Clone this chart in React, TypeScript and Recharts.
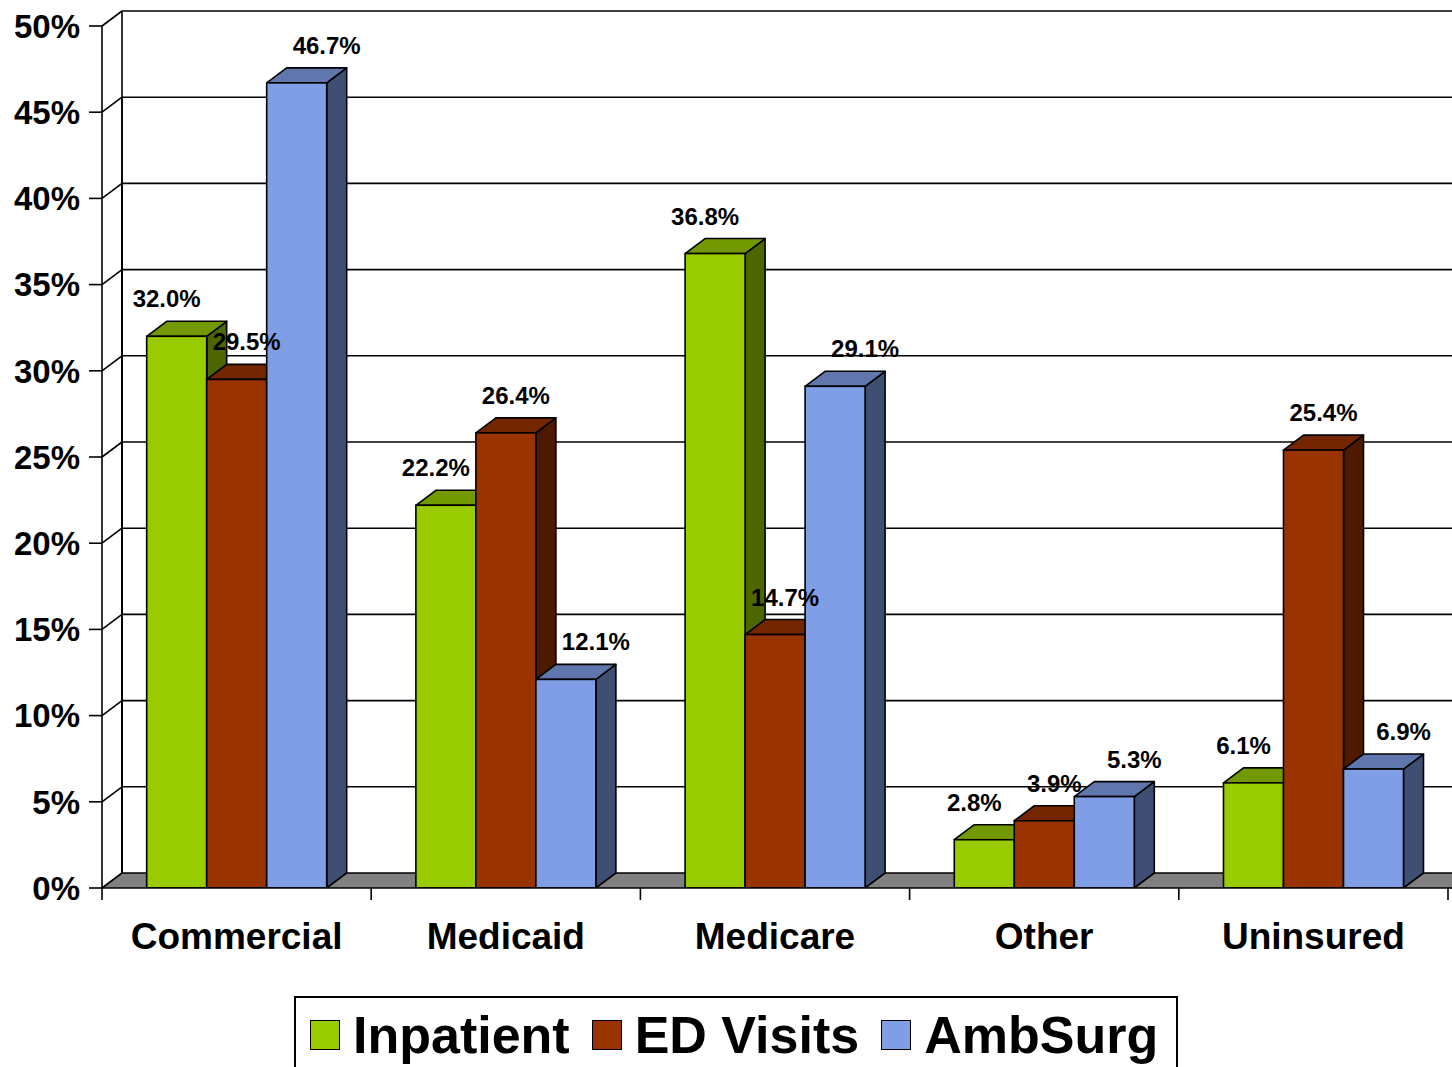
import React from 'react';
import { BarChart, Bar, XAxis, YAxis, CartesianGrid, Legend, LabelList } from 'recharts';

const categories = ['Commercial', 'Medicaid', 'Medicare', 'Other', 'Uninsured'];
const inpatient = [32.0, 22.2, 36.8, 2.8, 6.1];
const edVisits = [29.5, 26.4, 14.7, 3.9, 25.4];
const ambSurg = [46.7, 12.1, 29.1, 5.3, 6.9];
const yTicks = [0, 5, 10, 15, 20, 25, 30, 35, 40, 45, 50];
const seriesNames = ['Inpatient', 'ED Visits', 'AmbSurg'];

const data = categories.map((c, i) => ({
  category: c,
  inpatient: inpatient[i],
  ed: edVisits[i],
  amb: ambSurg[i],
}));

const W = 1452;
const H = 1067;
const TOP = 26;
const PLOT_BOTTOM = 888;
const DX = 20;
const DY = 15;
const FONT = '"Liberation Sans", Arial, Helvetica, sans-serif';
const LW = 1.6;

const COLORS = [
  { front: '#99CC00', top: '#739900', side: '#4D6600' },
  { front: '#993300', top: '#732600', side: '#4D1A00' },
  { front: '#7F9EE5', top: '#5F77AC', side: '#3F4F73' },
];

const renderHLine = (props: any) => {
  const x1 = Number(props.x1);
  const y1 = Number(props.y1);
  const bx = x1 + DX;
  const by = y1 - DY;
  const isFloor = Math.abs(y1 - PLOT_BOTTOM) < 1;
  return (
    <g key={`h-${props.index}`}>
      {isFloor && (
        <polygon
          points={`${x1},${y1} ${bx},${by} ${W + 20},${by} ${W + 20},${y1}`}
          fill="#808080"
          stroke="none"
        />
      )}
      <line x1={x1} y1={y1} x2={bx} y2={by} stroke="#000" strokeWidth={LW} />
      <line x1={bx} y1={by} x2={W + 20} y2={by} stroke="#000" strokeWidth={LW} />
      <line x1={bx} y1={by} x2={bx} y2={PLOT_BOTTOM - DY} stroke="#000" strokeWidth={LW} />
    </g>
  );
};

const make3D = (idx: number) => (props: any) => {
  const x = Number(props.x);
  const y = Number(props.y);
  const w = Number(props.width);
  const h = Number(props.height);
  if (!isFinite(x) || !isFinite(y) || !isFinite(w) || !isFinite(h)) return <g />;
  const c = COLORS[idx];
  const topPts = `${x},${y} ${x + DX},${y - DY} ${x + w + DX},${y - DY} ${x + w},${y}`;
  const sidePts = `${x + w},${y} ${x + w + DX},${y - DY} ${x + w + DX},${y + h - DY} ${x + w},${y + h}`;
  return (
    <g>
      <polygon points={sidePts} fill={c.side} stroke="#000" strokeWidth={LW} strokeLinejoin="round" />
      <polygon points={topPts} fill={c.top} stroke="#000" strokeWidth={LW} strokeLinejoin="round" />
      <rect x={x} y={y} width={w} height={h} fill={c.front} stroke="#000" strokeWidth={LW} />
    </g>
  );
};

const LABEL_SHIFT = [-10, 10, 30];

const makeLabel = (idx: number) => (props: any) => {
  const x = Number(props.x);
  const y = Number(props.y);
  const w = Number(props.width);
  const v = Number(props.value);
  return (
    <text
      x={x + w / 2 + LABEL_SHIFT[idx]}
      y={y - 29}
      textAnchor="middle"
      fontFamily={FONT}
      fontWeight="bold"
      fontSize={24}
      fill="#000"
    >
      {`${v.toFixed(1)}%`}
    </text>
  );
};

const CatTick = (props: any) => {
  const x = Number(props.x);
  const y = Number(props.y);
  const payload = props.payload || {};
  const half = payload.offset ? Number(payload.offset) : (1346 / categories.length) / 2;
  const isLast = props.index === categories.length - 1;
  return (
    <g>
      <line x1={x - half} y1={y} x2={x - half} y2={y + 12} stroke="#000" strokeWidth={LW} />
      {isLast && (
        <>
          <line x1={x + half} y1={y} x2={x + half} y2={y + 12} stroke="#000" strokeWidth={LW} />
          <line x1={x + half} y1={y} x2={W + 10} y2={y} stroke="#000" strokeWidth={LW} />
        </>
      )}
      <text
        x={x}
        y={y + 61}
        textAnchor="middle"
        fontFamily={FONT}
        fontWeight="bold"
        fontSize={37}
        fill="#000"
      >
        {payload.value}
      </text>
    </g>
  );
};

const LegendContent = () => (
  <div style={{ height: 71, position: 'relative' }}>
    <div
      style={{
        position: 'absolute',
        left: 294,
        top: 0,
        width: 884,
        height: 71,
        borderTop: '2px solid #000',
        borderLeft: '2px solid #000',
        borderRight: '2px solid #000',
        boxSizing: 'border-box',
        background: '#fff',
        display: 'flex',
        alignItems: 'center',
        paddingLeft: 14,
        paddingBottom: 0,
        paddingTop: 4,
      }}
    >
      {seriesNames.map((name, i) => (
        <div key={name} style={{ display: 'flex', alignItems: 'center', marginRight: 22 }}>
          <div
            style={{
              width: 30,
              height: 30,
              background: COLORS[i].front,
              border: '1.5px solid #000',
              boxSizing: 'border-box',
              marginRight: 13,
            }}
          />
          <span
            style={{
              fontFamily: FONT,
              fontWeight: 'bold',
              fontSize: 52,
              lineHeight: 1,
              color: '#000',
              whiteSpace: 'nowrap',
            }}
          >
            {name}
          </span>
        </div>
      ))}
    </div>
  </div>
);

export default function App() {
  return (
    <div style={{ position: 'absolute', left: 0, top: 0, width: W, height: H, background: '#fff' }}>
      <BarChart
        width={W}
        height={H}
        data={data}
        margin={{ top: TOP, right: 4, left: 0, bottom: 0 }}
        barCategoryGap="16.6%"
        barGap={0}
      >
        <CartesianGrid horizontal={renderHLine} vertical={false} />
        <XAxis
          dataKey="category"
          height={108}
          tickLine={false}
          tickSize={0}
          tickMargin={0}
          interval={0}
          axisLine={{ stroke: '#000', strokeWidth: LW }}
          tick={<CatTick />}
        />
        <YAxis
          type="number"
          domain={[0, 50]}
          ticks={yTicks}
          interval={0}
          width={102}
          tickSize={13}
          tickMargin={9}
          allowDataOverflow
          tickFormatter={(v: number) => `${v}%`}
          axisLine={{ stroke: '#000', strokeWidth: LW }}
          tickLine={{ stroke: '#000', strokeWidth: LW }}
          tick={{ fill: '#000', fontSize: 33, fontWeight: 'bold', fontFamily: FONT }}
        />
        <Legend verticalAlign="bottom" content={<LegendContent />} />
        <Bar dataKey="inpatient" name={seriesNames[0]} fill={COLORS[0].front} shape={make3D(0)} isAnimationActive={false}>
          <LabelList dataKey="inpatient" content={makeLabel(0)} />
        </Bar>
        <Bar dataKey="ed" name={seriesNames[1]} fill={COLORS[1].front} shape={make3D(1)} isAnimationActive={false}>
          <LabelList dataKey="ed" content={makeLabel(1)} />
        </Bar>
        <Bar dataKey="amb" name={seriesNames[2]} fill={COLORS[2].front} shape={make3D(2)} isAnimationActive={false}>
          <LabelList dataKey="amb" content={makeLabel(2)} />
        </Bar>
      </BarChart>
    </div>
  );
}
